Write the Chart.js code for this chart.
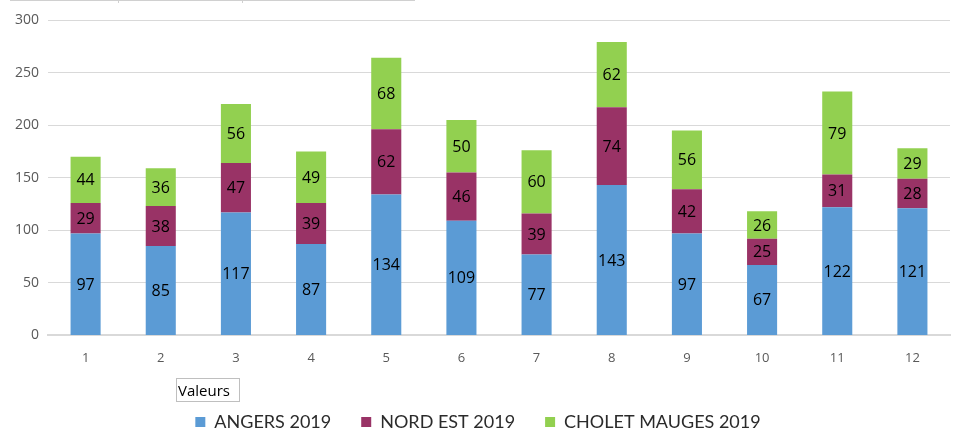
<!DOCTYPE html>
<html lang="fr">
<head>
  <meta charset="UTF-8" />
  <title>Valeurs 2019</title>
  <script src="https://cdn.jsdelivr.net/npm/chart.js"></script>
  <style>
    html, body { margin: 0; padding: 0; background: #fff; }
    #wrap { position: relative; width: 958px; height: 430px; }
    #topline { position: absolute; left: 10px; top: 0; width: 405px; height: 1px; background: #d0d0d0; }
    .tick { position: absolute; top: 0; width: 1px; height: 3px; background: #d0d0d0; }
    #valeurs {
      position: absolute; left: 176px; top: 378px; width: 64px; height: 24px;
      border: 1px solid #bfbfbf; box-sizing: border-box;
      font: 15px "Open Sans", sans-serif; color: #000; line-height: 22px; padding-left: 1px;
    }
  </style>
</head>
<body>
  <div id="wrap">
    <canvas id="chart" width="958" height="430"></canvas>
    <div id="topline"></div>
    <div class="tick" style="left:118px"></div>
    <div class="tick" style="left:242px"></div>
    <div id="valeurs">Valeurs</div>
  </div>

  <script>
    const labels = ['1', '2', '3', '4', '5', '6', '7', '8', '9', '10', '11', '12'];
    const angers = [97, 85, 117, 87, 134, 109, 77, 143, 97, 67, 122, 121];
    const nordEst = [29, 38, 47, 39, 62, 46, 39, 74, 42, 25, 31, 28];
    const cholet = [44, 36, 56, 49, 68, 50, 60, 62, 56, 26, 79, 29];

    // values drawn in the middle of each segment
    const barValues = {
      id: 'barValues',
      afterDatasetsDraw(chart) {
        const ctx = chart.ctx;
        ctx.save();
        ctx.font = '16px "Open Sans", sans-serif';
        ctx.fillStyle = '#000';
        ctx.textAlign = 'center';
        ctx.textBaseline = 'middle';
        chart.data.datasets.forEach((ds, i) => {
          chart.getDatasetMeta(i).data.forEach((bar, j) => {
            const mid = (bar.y + bar.base) / 2;
            ctx.fillText(ds.data[j], bar.x, mid + 1);
          });
        });
        ctx.restore();
      }
    };

    // push the legend a bit lower
    const legendShift = {
      id: 'legendShift',
      beforeInit(chart) {
        const fit = chart.legend.fit;
        chart.legend.fit = function () {
          fit.call(this);
          this.height -= 11;
        };
      }
    };

    new Chart(document.getElementById('chart'), {
      type: 'bar',
      data: {
        labels: labels,
        datasets: [
          { label: 'ANGERS 2019', data: angers, backgroundColor: '#5B9BD5' },
          { label: 'NORD EST 2019', data: nordEst, backgroundColor: '#993366' },
          { label: 'CHOLET MAUGES 2019', data: cholet, backgroundColor: '#92D050' }
        ]
      },
      options: {
        responsive: false,
        animation: false,
        datasets: { bar: { categoryPercentage: 1, barPercentage: 0.4, borderWidth: 0 } },
        layout: { padding: { top: 20, left: 6, right: 8, bottom: 0 } },
        plugins: {
          tooltip: { enabled: false },
          legend: {
            position: 'bottom',
            labels: {
              boxWidth: 10, boxHeight: 10, padding: 30,
              color: '#2b2b2b',
              font: { family: 'Lato, sans-serif', size: 18 }
            }
          }
        },
        scales: {
          x: {
            stacked: true,
            grid: { display: false },
            border: { color: '#d9d9d9', width: 2 },
            ticks: { color: '#595959', padding: 7, font: { family: '"Open Sans", sans-serif', size: 13 } },
            afterFit(scale) { scale.height += 10; }
          },
          y: {
            stacked: true,
            min: 0, max: 300,
            ticks: { stepSize: 50, color: '#595959', padding: 9, font: { family: '"Open Sans", sans-serif', size: 14 } },
            grid: { color: '#d9d9d9', drawTicks: false },
            border: { display: false }
          }
        }
      },
      plugins: [barValues, legendShift]
    });
  </script>
</body>
</html>
